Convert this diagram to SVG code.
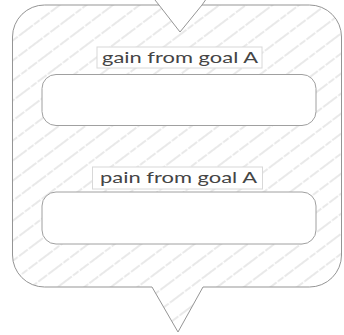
<svg xmlns="http://www.w3.org/2000/svg" width="344" height="335" viewBox="0 0 344 335">
  <defs>
    <pattern id="hatch" patternUnits="userSpaceOnUse" width="40" height="16" patternTransform="rotate(-37)">
      <line x1="0" y1="8" x2="40" y2="8" stroke="#c4c4c4" stroke-width="0.75" stroke-dasharray="11 1.5 7 1.5"/>
    </pattern>
  </defs>
  <style>
    .outer { fill: url(#hatch); stroke: #959595; stroke-width: 1; }
    .tick { fill: none; stroke: #959595; stroke-width: 1; }
    .slot { fill: #ffffff; stroke: #a0a0a0; stroke-width: 1; }
    .tag { fill: #ffffff; stroke: #d8d8d8; stroke-width: 1; }
    .label { font-family: "Lato", "Open Sans", sans-serif; font-weight: 400; font-size: 16px; fill: #454545; }
  </style>
  <rect width="344" height="335" fill="#ffffff"/>
  <g id="frame">
    <path class="outer" d="M 44.5,5 H 159 L 180,32 L 202,5 H 309.5 A 32 32 0 0 1 341.5 37 V 255 A 32 32 0 0 1 309.5 287 H 203 L 178 332 L 152 287 H 44.5 A 32 32 0 0 1 12.5 255 V 37 A 32 32 0 0 1 44.5 5 Z"/>
    <path class="tick" d="M 155,0 L 159,5 M 202,5 L 205.5,0"/>
  </g>
  <g id="gain-slot">
    <rect class="slot" x="42" y="74.5" width="274" height="51" rx="14"/>
  </g>
  <g id="gain-label">
    <rect class="tag" x="97" y="47" width="165" height="21"/>
    <text class="label" x="102" y="63" textLength="156" lengthAdjust="spacingAndGlyphs">gain from goal A</text>
  </g>
  <g id="pain-slot">
    <rect class="slot" x="42" y="192" width="274" height="52" rx="14"/>
  </g>
  <g id="pain-label">
    <rect class="tag" x="92.5" y="167" width="170" height="22"/>
    <text class="label" x="100" y="183" textLength="157" lengthAdjust="spacingAndGlyphs">pain from goal A</text>
  </g>
  <g id="connectors"/>
</svg>
